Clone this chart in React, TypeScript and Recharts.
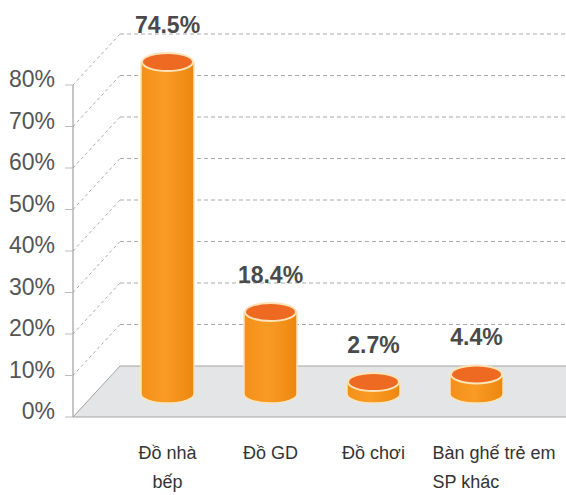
import { ComposedChart, Bar, Line, XAxis, YAxis, CartesianGrid, LabelList } from 'recharts'

const categories = ['Đồ nhà bếp', 'Đồ GD', 'Đồ chơi', 'Bàn ghế trẻ em SP khác']
const categoryLines = [['Đồ nhà', 'bếp'], ['Đồ GD'], ['Đồ chơi'], ['Bàn ghế trẻ em', 'SP khác']]
const shares = [74.5, 18.4, 2.7, 4.4]
const yTicks = [0, 10, 20, 30, 40, 50, 60, 70, 80]

const data = categories.map((name, i) => ({ name, share: shares[i] }))
const barMax = Math.max(...shares)

// 3D look: back wall sits up and to the right of the front plane
const DX = 47
const DY = -51
const LIFT = 23

const font = "'Liberation Sans', Arial, sans-serif"

function GridLine(props: any) {
  const { x1, y1, x2, index } = props
  if (y1 > 400) {
    return (
      <g key={`floor-${index}`}>
        <polygon
          points={`${x1},${y1} ${x1 + DX},${y1 + DY} ${x2},${y1 + DY} ${x2},${y1}`}
          fill="#e4e5e7"
        />
        <line x1={x1} y1={y1} x2={x1 + DX} y2={y1 + DY} stroke="#a3a3a3" />
        <line x1={x1 + DX} y1={y1 + DY} x2={x2} y2={y1 + DY} stroke="#a3a3a3" />
      </g>
    )
  }
  return (
    <g key={`grid-${index}`}>
      <line x1={x1} y1={y1} x2={x1 + DX} y2={y1 + DY} stroke="#aaa" strokeDasharray="3 3" />
      <line x1={x1 + DX} y1={y1 + DY} x2={x2} y2={y1 + DY} stroke="#aaa" strokeDasharray="4 3" />
    </g>
  )
}

function Cylinder(props: any) {
  const { x, y, width, height } = props
  const cx = x + width / 2
  const rx = width / 2
  const ry = 9
  const top = y - LIFT
  const base = y + height - LIFT
  return (
    <g>
      <path
        d={`M${cx - rx},${top} L${cx - rx},${base} A${rx},${ry} 0 0 0 ${cx + rx},${base} L${cx + rx},${top} Z`}
        fill="url(#cylBody)"
        stroke="#fde3b8"
        strokeWidth={1.5}
      />
      <ellipse cx={cx} cy={top} rx={rx - 1} ry={ry} fill="#ee6a22" stroke="#fde3b8" strokeWidth={2} />
    </g>
  )
}

function ValueLabel(props: any) {
  const { x, y, width, value } = props
  return (
    <text
      x={x + width / 2}
      y={y - LIFT - 37}
      textAnchor="middle"
      dominantBaseline="central"
      fontFamily={font}
      fontWeight="bold"
      fontSize={23}
      fill="#4a4a4a"
    >
      {`${value}%`}
    </text>
  )
}

function CategoryTick(props: any) {
  const { x, y, index } = props
  const lines = categoryLines[index] || []
  const last = index === categories.length - 1
  return (
    <g>
      {lines.map((line, i) => (
        <text
          key={i}
          x={last ? x - 44 : x}
          y={y + 36 + i * 29}
          textAnchor={last ? 'start' : 'middle'}
          dominantBaseline="central"
          fontFamily={font}
          fontSize={18}
          fill="#333"
        >
          {line}
        </text>
      ))}
    </g>
  )
}

function PercentTick(props: any) {
  const { x, y, payload } = props
  return (
    <text
      x={x}
      y={y - 6}
      textAnchor="end"
      dominantBaseline="central"
      fontFamily={font}
      fontSize={23}
      fill="#555"
    >
      {`${payload.value}%`}
    </text>
  )
}

export default function App() {
  return (
    <div style={{ position: 'absolute', left: 0, top: 0, width: 566, height: 495, background: '#fff' }}>
      <ComposedChart width={566} height={495} data={data} margin={{ top: 85, right: 0, bottom: 0, left: 0 }}>
        <defs>
          <linearGradient id="cylBody" x1="0" y1="0" x2="1" y2="0">
            <stop offset="0%" stopColor="#f39019" />
            <stop offset="45%" stopColor="#f99b25" />
            <stop offset="100%" stopColor="#ec870f" />
          </linearGradient>
        </defs>
        <CartesianGrid vertical={false} horizontal={GridLine} yAxisId="pct" />
        <XAxis
          dataKey="name"
          height={78}
          padding={{ left: 43, right: 38 }}
          axisLine={{ stroke: '#a3a3a3' }}
          tickLine={false}
          tickSize={0}
          tickMargin={0}
          interval={0}
          tick={CategoryTick}
        />
        <YAxis
          yAxisId="pct"
          width={73}
          domain={[0, 80]}
          ticks={yTicks}
          axisLine={{ stroke: '#8c8c8c' }}
          tickLine={{ stroke: '#bdbdbd' }}
          tickSize={8}
          tickMargin={10}
          tick={PercentTick}
        />
        <YAxis yAxisId="bars" orientation="right" width={0} hide domain={[0, barMax]} />
        {/* invisible series so the percent axis has an item bound to it */}
        <Line
          yAxisId="pct"
          dataKey="share"
          stroke="none"
          dot={false}
          activeDot={false}
          legendType="none"
          isAnimationActive={false}
        />
        <Bar dataKey="share" yAxisId="bars" barSize={53} shape={Cylinder} isAnimationActive={false}>
          <LabelList dataKey="share" content={ValueLabel} />
        </Bar>
      </ComposedChart>
    </div>
  )
}
